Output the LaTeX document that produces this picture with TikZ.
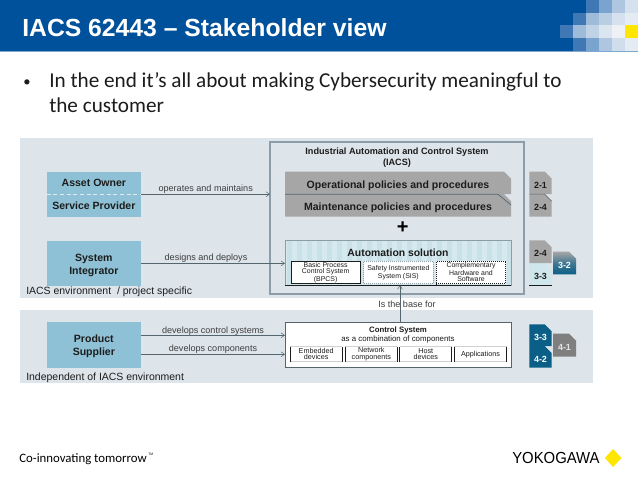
\documentclass[tikz,border=0pt]{standalone}
\usepackage{fontspec}
\setmainfont{Liberation Sans}
\newfontfamily\calib{Carlito}
\usetikzlibrary{arrows.meta}
\definecolor{hdr}{HTML}{00519B}
\definecolor{hdrline}{HTML}{7FA8D0}
\definecolor{band}{HTML}{DDE4EA}
\definecolor{actor}{HTML}{8FC1D6}
\definecolor{framec}{HTML}{8C9CA8}
\definecolor{pol}{HTML}{A6A6A6}
\definecolor{stripeA}{HTML}{C9E1E8}
\definecolor{stripeB}{HTML}{D6E9EF}
\definecolor{tabblue}{HTML}{0B5F86}
\definecolor{tablight}{HTML}{CFE6EC}
\definecolor{tabgray}{HTML}{7F7F7F}
\definecolor{linec}{HTML}{55656E}
\definecolor{txt}{HTML}{1C1C1C}
\definecolor{yok}{HTML}{FFE600}
\newcommand\fs[1]{\fontsize{#1}{#1}\selectfont}
\newcommand\fsl[2]{\fontsize{#1}{#2}\selectfont}
% box by pixel corners: name,x1,y1,x2,y2,style,text
\newcommand\pxnode[7]{%
  \pgfmathsetmacro\pw{(#4-#2)*0.75}%
  \pgfmathsetmacro\ph{(#5-#3)*0.75}%
  \pgfmathsetmacro\pcx{(#2+#4)/2}%
  \pgfmathsetmacro\pcy{(#3+#5)/2}%
  \node[rectangle,inner sep=0pt,outer sep=0pt,align=center,minimum width=\pw pt,minimum height=\ph pt,#6] (#1) at (\pcx,\pcy) {#7};}
% cut-corner tab: name,x1,y1,x2,y2,fill options,text options,text (the strut sets the label a little low)
\newcommand\tabshape[8]{%
  \path[#6] (#2,#3) -- (#4-7,#3) -- (#4,#3+7) -- (#4,#5) -- (#2,#5) -- cycle;
  \pxnode{#1}{#2}{#3}{#4}{#5}{font=\bfseries\fs{6.7},#7}{\rule{0pt}{7.8pt}#8}}
\tikzset{
  flow/.style={draw=linec,line width=0.5pt,-{Straight Barb[length=2.6pt,width=3.6pt,line width=0.35pt]}},
  actorbox/.style={fill=actor,text=txt,font=\bfseries\fsl{7.9}{9.75}},
  flowlabel/.style={text=txt!85,font=\fs{6.8},inner sep=0pt},
  envlabel/.style={text=txt,font=\fs{7.85},inner sep=0pt,anchor=west},
  polbox/.style={text=txt,font=\bfseries\fs{7.9}},
  subbox/.style={fill=white,text=txt,font=\fsl{5.2}{4.7},align=center},
  compbox/.style={fill=white,text=txt,font=\fsl{5.4}{4.7},align=center},
  tabtext/.style={text=txt}
}
\begin{document}
\begin{tikzpicture}[x=0.75pt,y=-0.75pt]
\useasboundingbox (0,0) rectangle (638,479);
\fill[white] (0,0) rectangle (638,479);
% header
\fill[hdr] (0,0) rectangle (638,51);
\fill[hdrline] (0,51) rectangle (638,52);
\foreach \xa/\ya/\c in {
 585.7/0/3F78B4,599/0/7AA3CF,612/0/AEC6E0,625/0/D5E1EE,
 572.7/12.7/3F78B4,585.7/12.7/9EBBD9,599/12.7/B9CDE3,612/12.7/D5E1EE,625/12.7/E4EBF3,
 559.7/25.4/3F78B4,572.7/25.4/9EBBD9,585.7/25.4/C0D2E6,599/25.4/DBE5F0,612/25.4/EDF1F6,625/25.4/FFE600,
 572.7/38.1/3F78B4,585.7/38.1/7AA3CF,599/38.1/AEC6E0,612/38.1/D0DEEC,625/38.1/E4EBF3}{
  \definecolor{mc}{HTML}{\c}
  \fill[mc] (\xa,\ya) rectangle ++(13.3,12.9);
}
\node[anchor=base west,text=white,font=\bfseries\fs{18.55},inner sep=0pt] (title) at (22,36) {IACS 62443 – Stakeholder view};
% bullet text
\node[anchor=base,font=\calib\fs{11},text=txt,inner sep=0pt] (bullet) at (27,86) {•};
\node[anchor=base west,font=\calib\fs{15.9},text=txt,inner sep=0pt] (line1) at (49,87) {In the end it’s all about making Cybersecurity meaningful to};
\node[anchor=base west,font=\calib\fs{15.9},text=txt,inner sep=0pt] (line2) at (49,112) {the customer};
% bands
\fill[band] (20,138) rectangle (593,298);
\fill[band] (20,310) rectangle (593,383);
% IACS frame
\pxnode{iacs}{270}{142}{524}{294}{draw=framec,line width=0.8pt}{}
\node[text=txt,font=\bfseries\fsl{6.85}{8.2},align=center,inner sep=0pt] (iacstitle) at (397,157.5) {Industrial Automation and Control System\\(IACS)};
% actors
\pxnode{owner}{46.7}{171.7}{141}{194.2}{actorbox}{Asset Owner}
\pxnode{provider}{46.7}{194.2}{141}{216.7}{actorbox}{Service Provider}
\draw[white!70!actor,line width=0.4pt,densely dashed] (owner.south west) -- (owner.south east);
\pxnode{integrator}{46.7}{241}{141}{285.7}{actorbox}{\rule{0pt}{7.9pt}System\\Integrator}
\pxnode{supplier}{46.7}{322}{141}{367.7}{actorbox}{\rule{0pt}{7.5pt}Product\\Supplier}
% policies
\tabshape{oper}{285}{171.7}{511}{194.2}{fill=pol}{polbox}{\rule{0pt}{9.5pt}Operational policies and procedures}
\tabshape{maint}{285}{194.2}{511}{216.7}{fill=pol}{polbox}{\rule{0pt}{9.5pt}Maintenance policies and procedures}
\draw[linec,line width=0.5pt] (285,194.2) -- (498,194.2) -- (511,205);
\node[text=black,font=\bfseries\fs{15},inner sep=0pt] (plus) at (402.7,227.7) {+};
% automation solution
\begin{scope}
\clip (285,240.3) rectangle (511,285.3);
\fill[stripeB] (285,240.3) rectangle (511,285.3);
\foreach \i in {0,...,22}{\fill[stripeA] (287+\i*10,240.3) rectangle ++(5,45);}
\end{scope}
\pxnode{autosol}{285}{240.3}{511}{285.3}{draw=framec,line width=0.5pt}{}
\draw[txt,line width=0.6pt] (autosol.south west) -- (autosol.south east);
\node[text=txt,font=\bfseries\fs{7.8},inner sep=0pt] (autotitle) at (398,253) {Automation solution};
\pxnode{bpcs}{291}{261}{360.3}{283.7}{subbox,draw=txt,line width=0.5pt}{Basic Process\\Control System\\(BPCS)}
\pxnode{sis}{363.7}{261}{433}{283.7}{subbox,draw=framec,densely dotted,line width=0.5pt}{Safety Instrumented\\System (SIS)}
\pxnode{chs}{436.3}{261}{505.7}{283.7}{subbox,draw=txt,densely dotted,line width=0.5pt}{Complementary\\Hardware and\\Software}
% control system
\pxnode{control}{285}{322}{511}{367.3}{fill=white,draw=linec,line width=0.5pt}{}
\node[text=txt,font=\bfseries\fs{5.85},inner sep=0pt] (cstitle) at (398,330) {Control System};
\node[text=txt,font=\fs{5.9},inner sep=0pt] (cssub) at (398,339.7) {as a combination of components};
\foreach \nm/\xa/\xb/\lab in {embed/290/342.3/{Embedded\\devices},net/345.3/397.3/{Network\\components},host/399.7/451.7/{Host\\devices},apps/454.3/506.7/{Applications}}{
  \pxnode{\nm}{\xa}{346.7}{\xb}{361.7}{compbox}{\lab}
  \draw[black!18,line width=0.6pt] (\nm.north west) -- (\nm.north east) (\nm.south west) -- (\nm.south east);
  \draw[txt,line width=0.6pt] (\nm.north west) -- (\nm.south west);
  \draw[txt,line width=0.6pt] (\nm.north east) -- (\nm.south east);
}
% connectors
\draw[flow] (owner.south east) -- (owner.south east -| iacs.west);
\node[flowlabel] (l1) at (205.7,189) {operates and maintains};
\draw[flow] (integrator.east) -- (integrator.east -| autosol.west);
\node[flowlabel] (l2) at (206,257.7) {designs and deploys};
\coordinate (cs1) at (285,335.3);
\coordinate (cs2) at (285,354.3);
\draw[flow] (supplier.east |- cs1) -- (cs1);
\draw[flow] (supplier.east |- cs2) -- (cs2);
\node[flowlabel] (l3) at (213,331.3) {develops control systems};
\node[flowlabel] (l4) at (213,349.3) {develops components};
\coordinate (base1) at (400,322);
\coordinate (base2) at (400,285.3);
\draw[flow] (base1) -- (base2);
\node[flowlabel] (l5) at (407,304) {Is the base for};
\node[envlabel] (env1) at (26,292) {IACS environment \ / project specific};
\node[envlabel] (env2) at (26,378) {Independent of IACS environment};
% tabs
\tabshape{t21}{529.3}{171.7}{551.7}{194.2}{fill=pol}{tabtext}{2-1}
\tabshape{t24a}{529.3}{194.2}{551.7}{216.7}{fill=pol}{tabtext}{2-4}
\draw[linec,line width=0.4pt] (529.3,194.2) -- (544.7,194.2) -- (551.7,201.2);
\tabshape{t33}{529.3}{263}{551.7}{285.7}{fill=tablight}{tabtext}{3-3}
\draw[txt,line width=0.6pt] (529.3,285.7) -- (551.7,285.7);
\tabshape{t24b}{529.3}{240.3}{551.7}{263}{fill=pol}{tabtext}{2-4}
\tabshape{t32}{553}{251.7}{576}{274.3}{top color=pol,bottom color=tabblue,middle color=pol!35!tabblue}{text=white!85!tablight}{3-2}
\tabshape{t42}{529.3}{346}{551.7}{367.7}{fill=tabblue}{text=white}{4-2}
\tabshape{t33b}{529.3}{324.3}{551.7}{346}{fill=tabblue}{text=white}{3-3}
\tabshape{t41}{553}{333.7}{576}{356.7}{fill=tabgray}{text=white!90!black}{4-1}
% footer
\node[anchor=base west,font=\calib\fs{9.6},text=black,inner sep=0pt] (slogan) at (19,462) {Co-innovating tomorrow};
\node[anchor=base west,font=\fs{2.5},text=black,inner sep=0pt] (tm) at (148,455) {TM};
\node[anchor=base west,font=\fs{12},text=black,inner sep=0pt,xscale=0.93,transform shape] (yoko) at (512,463.5) {YOKOGAWA};
\fill[yok] (605,458) -- (613,449) -- (621.5,458) -- (613,467) -- cycle;
\end{tikzpicture}
\end{document}
